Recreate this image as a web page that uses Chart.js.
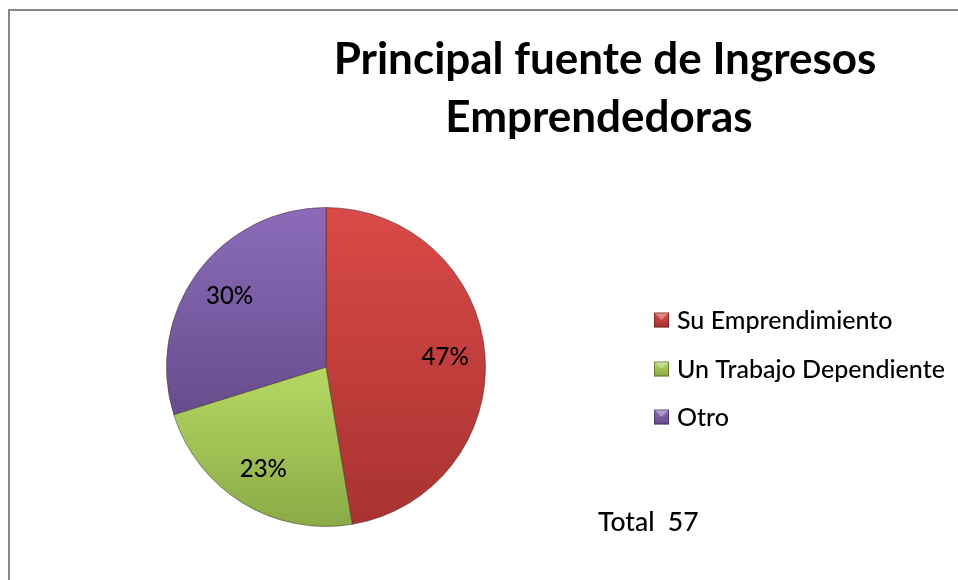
<!DOCTYPE html>
<html><head><meta charset="utf-8">
<script src="https://cdn.jsdelivr.net/npm/chart.js@4"></script>
<style>
html,body{margin:0;padding:0;background:#fff;width:958px;height:580px;overflow:hidden;}
#frame{position:absolute;left:8px;top:9px;width:1000px;height:1000px;border:2px solid #868686;box-sizing:border-box;}
#wrap{position:absolute;left:0;top:0;width:958px;height:580px;}
</style></head><body>
<div id="frame"></div>
<div id="wrap"><canvas id="c" width="958" height="580"></canvas></div>
<script>
const titleLines = ['Principal fuente de Ingresos', 'Emprendedoras'];
const categories = ['Su Emprendimiento', 'Un Trabajo Dependiente', 'Otro'];
const counts = [27, 13, 17];
const percentLabels = ['47%', '23%', '30%'];
const totalLabel = 'Total  57';
const topColors = ['#DA4A48', '#B6D862', '#8C6CBA'];
const bottomColors = ['#A83230', '#8AAA46', '#654B8A'];
const gradStart = [0.0, 0.5, 0.0];
const gradEnd = [1.0, 1.0, 0.68];

const FONT = 'Lato, "Open Sans", sans-serif';

function sliceFill(ctx) {
  const chart = ctx.chart;
  const a = chart.chartArea;
  const i = ctx.dataIndex;
  if (!a) return topColors[i];
  const g = chart.ctx.createLinearGradient(0, a.top, 0, a.bottom);
  g.addColorStop(gradStart[i], topColors[i]);
  g.addColorStop(gradEnd[i], bottomColors[i]);
  return g;
}

const decorPlugin = {
  id: 'decor',
  afterDatasetsDraw(chart) {
    const c = chart.ctx;
    const meta = chart.getDatasetMeta(0);
    c.save();
    c.fillStyle = '#000';
    c.font = '500 24px ' + FONT;
    c.textAlign = 'center';
    c.textBaseline = 'middle';
    meta.data.forEach((arc, i) => {
      const p = arc.getProps(['x', 'y', 'startAngle', 'endAngle', 'outerRadius'], true);
      const mid = (p.startAngle + p.endAngle) / 2;
      const r = p.outerRadius * 0.75;
      c.fillText(percentLabels[i], p.x + Math.cos(mid) * r, p.y + Math.sin(mid) * r);
    });
    c.restore();
  },
  afterDraw(chart) {
    const c = chart.ctx;
    c.save();
    // title
    c.fillStyle = '#000';
    c.font = 'bold 44px ' + FONT;
    c.textAlign = 'center';
    c.textBaseline = 'alphabetic';
    c.fillText(titleLines[0], 605, 74);
    c.fillText(titleLines[1], 599, 132);
    // legend
    const rows = [320, 369, 417];
    c.font = '500 25px ' + FONT;
    c.textAlign = 'left';
    c.textBaseline = 'middle';
    categories.forEach((lab, i) => {
      const x = 654, y = rows[i] - 7.5, s = 15;
      const g = c.createLinearGradient(0, y, 0, y + s);
      g.addColorStop(0, topColors[i]);
      g.addColorStop(1, bottomColors[i]);
      c.fillStyle = g;
      c.fillRect(x, y, s, s);
      // bevel highlight
      c.fillStyle = 'rgba(255,255,255,0.35)';
      c.beginPath();
      c.moveTo(x, y); c.lineTo(x + s, y); c.lineTo(x + s / 2, y + s / 2); c.closePath();
      c.fill();
      c.strokeStyle = 'rgba(0,0,0,0.35)';
      c.lineWidth = 1;
      c.strokeRect(x + 0.5, y + 0.5, s - 1, s - 1);
      c.fillStyle = '#000';
      c.fillText(lab, 677, rows[i] + 1);
    });
    // total
    c.font = '500 26.5px ' + FONT;
    c.textBaseline = 'alphabetic';
    c.fillText(totalLabel, 598, 531);
    c.restore();
  }
};

new Chart(document.getElementById('c'), {
  type: 'pie',
  data: {
    labels: categories,
    datasets: [{
      data: counts,
      backgroundColor: sliceFill,
      borderColor: 'rgba(70,50,50,0.55)',
      borderWidth: 1
    }]
  },
  options: {
    responsive: false,
    animation: false,
    events: [],
    layout: { padding: { left: 166, top: 207, right: 472, bottom: 53 } },
    plugins: { legend: { display: false }, title: { display: false }, tooltip: { enabled: false } }
  },
  plugins: [decorPlugin]
});
</script>
</body></html>
